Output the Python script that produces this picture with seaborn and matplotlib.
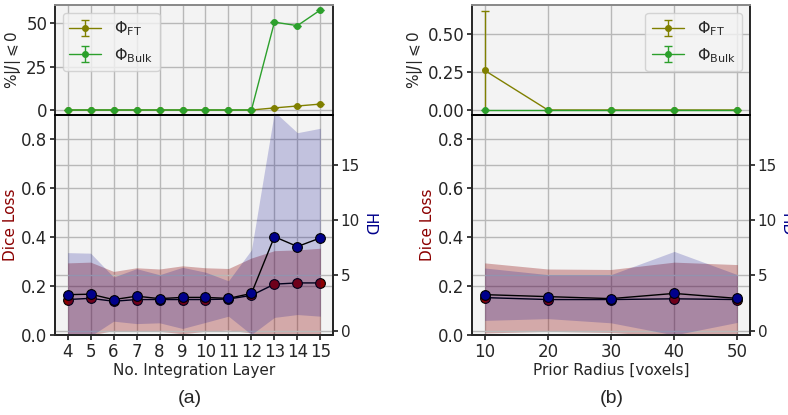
import matplotlib
matplotlib.use("Agg")
import matplotlib.pyplot as plt
import pandas as pd
import seaborn as sns

# (a) number of integration layers
layers = [4, 5, 6, 7, 8, 9, 10, 11, 12, 13, 14, 15]
ft_layers = [0, 0, 0, 0, 0, 0, 0, 0, 0, 1.2, 2.3, 3.4]
ft_err_layers = [0, 0, 0, 0, 0, 0, 0, 0, 0, 0, 0, 0]
bulk_layers = [0, 0, 0, 0, 0, 0, 0, 0, 0, 50.5, 48.5, 57.5]
bulk_err_layers = [0, 0, 0, 0, 0, 0, 0, 0, 0, 0, 0, 0]
dice_layers = [0.145, 0.150, 0.138, 0.145, 0.145, 0.145, 0.145, 0.147, 0.162, 0.208, 0.213, 0.213]
dice_lo_layers = [-0.005, 0.0, 0.018, 0.015, 0.015, 0.005, 0.015, 0.02, 0.008, -0.01, -0.01, -0.01]
dice_hi_layers = [0.295, 0.298, 0.26, 0.275, 0.27, 0.283, 0.275, 0.272, 0.315, 0.345, 0.348, 0.355]
hd_layers = [3.25, 3.29, 2.8, 3.11, 2.89, 3.0, 3.0, 2.91, 3.36, 8.49, 7.6, 8.38]
hd_lo_layers = [-0.5, -0.5, 0.85, 0.63, 0.7, 0.19, 0.74, 1.3, -0.36, 1.19, 1.45, 1.3]
hd_hi_layers = [7.05, 7.0, 4.84, 5.6, 5.05, 5.72, 5.28, 4.5, 7.3, 19.8, 17.9, 18.3]

# (b) prior radius
radius = [10, 20, 30, 40, 50]
ft_radius = [0.26, 0, 0, 0, 0]
ft_err_radius = [0.39, 0, 0, 0, 0]
bulk_radius = [0, 0, 0, 0, 0]
bulk_err_radius = [0, 0, 0, 0, 0]
dice_radius = [0.153, 0.145, 0.145, 0.148, 0.145]
dice_lo_radius = [0.008, 0.015, 0.01, -0.005, -0.02]
dice_hi_radius = [0.295, 0.27, 0.268, 0.298, 0.288]
hd_radius = [3.25, 3.07, 2.89, 3.36, 2.91]
hd_lo_radius = [0.92, 1.08, 0.7, -0.4, 0.74]
hd_hi_radius = [5.66, 5.06, 5.06, 7.16, 5.06]

sns.set_theme(style="whitegrid", rc={
    "axes.facecolor": "#f3f3f3",
    "axes.edgecolor": "#262626",
    "axes.linewidth": 1.4,
    "grid.color": "#b8b8b8",
    "grid.linewidth": 1.0,
    "xtick.bottom": True,
    "ytick.left": True,
    "xtick.major.size": 3.5,
    "ytick.major.size": 3.5,
    "xtick.major.pad": 2.5,
    "ytick.major.pad": 2.0,
    "font.size": 11,
    "axes.labelsize": 11,
    "xtick.labelsize": 12,
    "ytick.labelsize": 12,
    "legend.fontsize": 11.5,
})
plt.rcParams["font.family"] = ["DejaVu Sans"]


def draw_panel(fig, left, x, ft, ft_err, bulk, bulk_err, dice, dice_lo, dice_hi,
               hd, hd_lo, hd_hi, xlabel, legend_loc, top_ticks, top_ylim):
    width = 0.3528
    ax_top = fig.add_axes([left, 0.7229, width, 0.2651])
    ax = fig.add_axes([left, 0.1928, width, 0.5301])

    ax_top.errorbar(x, ft, yerr=ft_err, color="olive", marker="o", markersize=4,
                    lw=1, capsize=3, label=r"$\Phi_{\mathrm{FT}}$")
    ax_top.errorbar(x, bulk, yerr=bulk_err, color="tab:green", marker="o", markersize=4,
                    lw=1, capsize=3, label=r"$\Phi_{\mathrm{Bulk}}$")
    ax_top.set_yticks(top_ticks)
    if top_ylim is not None:
        ax_top.set_ylim(*top_ylim)
    ax_top.set_ylabel(r"$\%|J|\leqslant0$", labelpad=2)
    ax_top.tick_params(axis="x", bottom=False, labelbottom=False)
    ax_top.spines["top"].set_color("#888888")
    ax_top.spines["bottom"].set_color("black")
    ax_top.legend(loc=legend_loc)

    ax.fill_between(x, dice_lo, dice_hi, color="darkred", alpha=0.3, lw=0)
    sns.lineplot(x=x, y=dice, ax=ax, color="black", lw=1, marker="o", markersize=7,
                 markerfacecolor="darkred", markeredgecolor="black", markeredgewidth=0.8)
    ax.set_ylim(0, 0.9)
    ax.set_yticks([0.0, 0.2, 0.4, 0.6, 0.8])
    ax.set_ylabel("Dice Loss", color="darkred", labelpad=2)
    ax.set_xlabel(xlabel, labelpad=1)
    ax.set_xticks(x)

    ax2 = ax.twinx()
    ax2.fill_between(x, hd_lo, hd_hi, color="darkblue", alpha=0.2, lw=0)
    sns.lineplot(x=x, y=hd, ax=ax2, color="black", lw=1, marker="o", markersize=7,
                 markerfacecolor="darkblue", markeredgecolor="black", markeredgewidth=0.8)
    ax2.set_ylim(-0.4, 19.5)
    ax2.set_yticks([0, 5, 10, 15])
    ax2.tick_params(axis="y", right=True, left=False, size=3.5, pad=2, labelsize=11)
    ax2.set_ylabel("HD", color="darkblue", rotation=270, va="bottom", labelpad=1)
    ax2.grid(True, axis="y")
    ax2.grid(False, axis="x")
    ax2.spines["top"].set_color("black")

    lo = min(x) - 0.05 * (max(x) - min(x))
    hi = max(x) + 0.05 * (max(x) - min(x))
    ax.set_xlim(lo, hi)
    ax_top.set_xlim(lo, hi)
    ax_top.set_xticks(x)


fig = plt.figure(figsize=(7.88, 4.15), dpi=100)

draw_panel(fig, 0.0698, layers, ft_layers, ft_err_layers, bulk_layers, bulk_err_layers,
           dice_layers, dice_lo_layers, dice_hi_layers, hd_layers, hd_lo_layers, hd_hi_layers,
           "No. Integration Layer", "upper left", [0, 25, 50], None)
draw_panel(fig, 0.599, radius, ft_radius, ft_err_radius, bulk_radius, bulk_err_radius,
           dice_radius, dice_lo_radius, dice_hi_radius, hd_radius, hd_lo_radius, hd_hi_radius,
           "Prior Radius [voxels]", "upper right", [0.0, 0.25, 0.5], (-0.033, 0.69))

fig.text(0.241, 0.03, "(a)", fontsize=14, family="Liberation Sans", ha="center")
fig.text(0.776, 0.03, "(b)", fontsize=14, family="Liberation Sans", ha="center")

fig.savefig("out.png", dpi=100)
